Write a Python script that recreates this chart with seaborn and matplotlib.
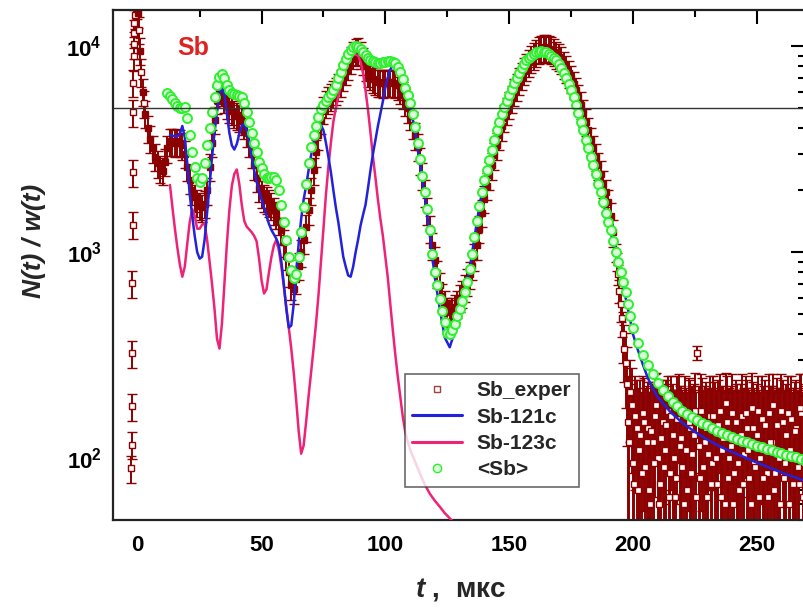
import numpy as np
import pandas as pd
import matplotlib
matplotlib.use("Agg")
import matplotlib.pyplot as plt
import seaborn as sns
from matplotlib.lines import Line2D
from matplotlib.ticker import MultipleLocator, FixedLocator, FixedFormatter, LogLocator, NullFormatter


# DATA

# experimental points: isolated column near t = 0 and a few half-step points
exp_t_start = [-2.6, -2.5, -2.4, -2.3, -2.2, -2.1, -2.0, -1.9, -1.8, -1.7, -1.6, -1.5, -1.4, -1.3,
               -0.5, 0.5, 1.5, 2.5]
exp_y_start = [89, 116, 178, 322, 705, 1360, 2450, 4770, 6650, 8920, 10200, 11600, 13000, 14200,
               16000, 12000, 7500, 5300]

# experimental points, t = 0 ... 192 (step 1)
exp_t_main = np.arange(0, 193)
exp_y_main = [
    14500, 9500, 6000, 4700, 4000, 3550, 3200, 2900, 2700, 2550,
    2480, 2750, 3200, 3450, 3450, 3400, 3450, 3400, 3300, 3000,
    2600, 2250, 2000, 1850, 1750, 1680, 1650, 1720, 2000, 2600,
    3400, 4400, 5500, 6150, 6000, 5600, 5200, 5000, 4850, 4700,
    4600, 4500, 4350, 4150, 3800, 3400, 3000, 2650, 2300, 2050,
    1920, 1850, 1800, 1750, 1680, 1600, 1520, 1420, 1280, 1120,
    960, 800, 690, 660, 740, 860, 1000, 1150, 1320, 1600,
    2000, 2500, 3050, 3700, 4400, 4950, 5300, 5500, 5700, 5900,
    6100, 6350, 6700, 7100, 7600, 8100, 8650, 9100, 9450, 9500,
    9100, 8500, 8000, 7500, 7200, 6950, 6800, 6700, 6650, 6600,
    6650, 6700, 6700, 6650, 6600, 6450, 6200, 5800, 5400, 5000,
    4600, 4150, 3700, 3250, 2800, 2350, 1950, 1600, 1300, 1080,
    920, 790, 690, 610, 560, 520, 510, 520, 540, 565,
    600, 630, 670, 720, 780, 860, 950, 1080, 1300, 1550,
    1820, 2100, 2370, 2650, 2960, 3300, 3700, 4100, 4500, 4870,
    5230, 5600, 6000, 6400, 6800, 7200, 7600, 8000, 8380, 8700,
    9000, 9300, 9600, 9800, 9900, 9850, 9750, 9600, 9400, 9150,
    8900, 8600, 8200, 7800, 7400, 7000, 6550, 6100, 5650, 5200,
    4750, 4300, 3900, 3500, 3200, 2900, 2650, 2400, 2150, 1950,
    1750, 1500, 1250,
]
exp_rel_err = 0.15

# noisy tail of the experiment, t = 193 ... 270
exp_t_tail = np.arange(193, 271)
exp_y_tail = [
    1000, 780, 560, 400, 290, 150, 210, 95, 160, 70,
    130, 165, 90, 140, 60, 120, 160, 100, 75, 150,
    110, 170, 85, 130, 65, 155, 115, 90, 165, 70,
    140, 105, 170, 325, 80, 150, 120, 65, 160, 95,
    135, 75, 170, 110, 60, 150, 100, 165, 85, 125,
    70, 160, 105, 140, 80, 175, 95, 130, 65, 155,
    110, 85, 165, 120, 70, 145, 100, 170, 80, 130,
    60, 155, 105, 140, 75, 165, 95, 120,
]
exp_err_tail = [
    100, 90, 100, 110, 115, 100, 90, 120, 90, 130,
    110, 85, 130, 95, 150, 110, 95, 120, 140, 90,
    115, 80, 130, 100, 150, 95, 110, 125, 85, 140,
    100, 120, 90, 25, 135, 95, 105, 150, 90, 125,
    100, 140, 85, 115, 155, 100, 120, 90, 130, 105,
    145, 95, 115, 100, 135, 85, 125, 100, 150, 95,
    115, 130, 90, 105, 145, 100, 120, 85, 135, 100,
    155, 95, 115, 100, 140, 90, 125, 105,
]

# tail points lying between the ones above, t = 193.5 ... 269.5
exp_t_tail2 = np.arange(193.5, 270, 1.0)
exp_y_tail2 = [
    900, 650, 480, 340, 230, 120, 180, 75, 140, 110,
    85, 150, 120, 70, 135, 95, 180, 60, 125, 90,
    145, 65, 160, 100, 80, 175, 125, 60, 110, 150,
    85, 130, 65, 115, 170, 90, 140, 105, 75, 160,
    100, 145, 65, 125, 185, 80, 115, 60, 150, 95,
    130, 75, 165, 110, 60, 140, 90, 170, 100, 80,
    145, 65, 120, 180, 85, 110, 60, 150, 95, 165,
    110, 75, 135, 90, 175, 65, 130,
]
exp_err_tail2 = [
    90, 85, 95, 105, 115, 110, 95, 125, 100, 110,
    125, 95, 105, 140, 100, 115, 80, 150, 105, 120,
    95, 145, 90, 115, 135, 80, 100, 150, 110, 95,
    130, 100, 145, 110, 85, 125, 95, 115, 140, 90,
    115, 95, 150, 100, 75, 130, 110, 155, 90, 120,
    100, 140, 85, 110, 150, 95, 120, 80, 110, 130,
    95, 145, 105, 75, 130, 110, 150, 90, 120, 85,
    110, 135, 100, 125, 80, 145, 100,
]

# <Sb> fit, t = 12 ... 200 step 1, then 202 ... 270 step 2
fit_t = np.r_[np.arange(12, 201), np.arange(202, 271, 2)]
fit_y = [
    5900, 5750, 5550, 5300, 5100, 5000, 5000, 5050, 4500, 3700,
    3050, 2600, 2300, 2200, 2300, 2700, 3300, 4000, 4800, 5700,
    6500, 7100, 7300, 7000, 6500, 6100, 5900, 5850, 5800, 5750,
    5650, 5300, 4800, 4300, 3800, 3400, 3050, 2750, 2550, 2400,
    2300, 2300, 2320, 2330, 2250, 2000, 1700, 1400, 1150, 950,
    820, 750, 780, 950, 1250, 1650, 2150, 2700, 3250, 3700,
    4100, 4550, 4950, 5200, 5450, 5650, 5850, 6100, 6500, 7000,
    7500, 8100, 8700, 9200, 9600, 9900, 10000, 9950, 9700, 9400,
    9100, 8800, 8600, 8450, 8350, 8300, 8300, 8350, 8400, 8450,
    8450, 8400, 8250, 7950, 7500, 6900, 6300, 5800, 5300, 4700,
    4050, 3400, 2820, 2350, 1950, 1620, 1280, 980, 800, 690,
    590, 520, 460, 405, 400, 420, 450, 490, 530, 580,
    640, 720, 830, 980, 1180, 1420, 1680, 1950, 2230, 2500,
    2800, 3120, 3500, 3900, 4300, 4700, 5050, 5400, 5800, 6200,
    6600, 7000, 7400, 7800, 8200, 8550, 8800, 9000, 9200, 9350,
    9420, 9440, 9400, 9350, 9200, 9000, 8800, 8600, 8200, 7800,
    7400, 7000, 6550, 6100, 5650, 5200, 4750, 4300, 3900, 3500,
    3200, 2900, 2650, 2400, 2150, 1950, 1750, 1550, 1400, 1280,
    1130, 1000, 900, 800, 720, 640, 560, 490, 430,
    360, 315, 282, 255, 232, 215, 200, 188, 178, 170,
    164, 158, 153, 148, 144, 140, 136, 133, 130, 127,
    124, 121, 119, 117, 115, 113, 111, 109, 107, 106,
    104, 102, 101, 99, 98,
]

# Sb-121c component
b121_t = np.r_[np.arange(13, 104), np.arange(104, 201, 2),
               [202, 204, 206, 208, 210, 215, 220, 225, 230, 235, 240, 245, 250, 255, 260, 265, 270]]
b121_y = [
    3700, 3680, 3650, 3650, 3750, 4100, 3600, 2700, 1900, 1500,
    1200, 1000, 930, 950, 1150, 1550, 2100, 2900, 3800, 4800,
    5800, 6500, 5800, 4700, 3800, 3300, 3150, 3350, 3750, 4100,
    4200, 3900, 3400, 2900, 2500, 2200, 1980, 1800, 1650, 1500,
    1370, 1280, 1220, 1160, 1080, 900, 700, 530, 430, 440,
    560, 800, 1100, 1450, 1800, 2100, 2500, 2950, 3400, 3800,
    4050, 4150, 3900, 3400, 2900, 2450, 2000, 1650, 1400, 1150,
    950, 850, 770, 760, 850, 1000, 1150, 1350, 1520, 1700,
    2050, 2500, 3000, 3500, 4100, 4700, 5400, 6300, 7080, 7700, 8100,
    8000, 7300, 6100, 5100, 3900, 2650, 1850, 1200, 750,
    530, 385, 345, 410, 510, 630, 820, 1180, 1680, 2230,
    2800, 3500, 4300, 5050, 5800, 6600, 7400, 8200, 8800, 9200,
    9420, 9400, 9200, 8800, 8200, 7400, 6550, 5650, 4750, 3900,
    3200, 2650, 2150, 1750, 1400, 1120, 880, 690, 530, 400,
    335, 285, 245, 218, 198, 168, 148, 134, 123, 114, 107, 101, 95, 90, 85, 81, 77,
]

# Sb-123c component
b123_t = np.r_[np.arange(13, 111), np.arange(112, 131, 2)]
b123_y = [
    2120, 1650, 1300, 1050, 870, 760, 850, 1100, 1400, 1620,
    1500, 1300, 1300, 1360, 1380, 1150, 900, 700, 530, 380,
    340, 450, 700, 1100, 1600, 2100, 2400, 2520, 2150, 1700,
    1420, 1330, 1290, 1250, 1200, 1130, 930, 730, 630, 660,
    800, 950, 1080, 1150, 1020, 850, 680, 540, 430, 340,
    260, 190, 135, 105, 115, 150, 200, 260, 340, 450,
    620, 900, 1300, 1900, 2600, 3400, 4300, 5000, 5700, 6400,
    7100, 7800, 8400, 8800, 9050, 9100, 9000, 8400, 7400, 6100,
    4900, 3800, 2900, 2300, 1800, 1450, 1200, 950, 750, 560,
    420, 320, 250, 200, 160, 135, 120, 110,
    96, 84, 74, 67, 62, 58, 54, 51, 48, 45,
]

labels = ["Sb_exper", "Sb-121c", "Sb-123c", "<Sb>"]
ref_level = 5000

exp_color = "#8b0000"
blue = "#2222dd"
pink = "#ee2277"
green_edge = "#2ef02e"
green_face = "#dcffdc"


# STYLE

sns.set_style("white")
plt.rcParams["font.family"] = ["Liberation Sans", "DejaVu Sans"]
plt.rcParams["mathtext.fontset"] = "custom"
plt.rcParams["mathtext.rm"] = "Liberation Sans:bold"
plt.rcParams["mathtext.bf"] = "Liberation Sans:bold"
plt.rcParams["mathtext.it"] = "Liberation Sans:italic:bold"

fig = plt.figure(figsize=(8.04, 6.09), dpi=100)
ax = fig.add_axes([113 / 804, 89 / 609, 692 / 804, 510 / 609])


# PLOT

exp_style = dict(fmt="s", ms=4.2, mfc="white", mec=exp_color, mew=1.0, ecolor=exp_color,
                 elinewidth=1.4, capsize=3.5, capthick=1.4, zorder=2)
ax.errorbar(exp_t_start, exp_y_start, yerr=np.array(exp_y_start) * exp_rel_err, **exp_style)
# the main band is so dense in the original that the squares merge into a solid band
ax.errorbar(exp_t_main, exp_y_main, yerr=np.array(exp_y_main) * exp_rel_err,
            **{**exp_style, "mfc": exp_color, "ms": 4.8})
ax.errorbar(exp_t_tail, exp_y_tail, yerr=exp_err_tail, **exp_style)
ax.errorbar(exp_t_tail2, exp_y_tail2, yerr=exp_err_tail2, **exp_style)

df_123 = pd.DataFrame({"t": b123_t, "N": b123_y})
df_121 = pd.DataFrame({"t": b121_t, "N": b121_y})
df_fit = pd.DataFrame({"t": fit_t, "N": fit_y})

sns.lineplot(data=df_123, x="t", y="N", color=pink, lw=1.8, estimator=None, sort=False, ax=ax, zorder=3)
sns.lineplot(data=df_121, x="t", y="N", color=blue, lw=1.8, estimator=None, sort=False, ax=ax, zorder=4)
sns.scatterplot(data=df_fit, x="t", y="N", marker="o", s=42, color=green_face, edgecolor=green_edge,
                linewidth=1.4, ax=ax, zorder=5, legend=False)

ax.axhline(ref_level, color="#333333", lw=1.0, zorder=6)

ax.set_yscale("log")
ax.set_xlim(-10, 269.5)
ax.set_ylim(50, 15000)

ax.text(16, 9100, "Sb", color="#dd2222", fontsize=18, fontweight="bold")

# axes, ticks
ax.xaxis.set_major_locator(MultipleLocator(50))
ax.xaxis.set_minor_locator(MultipleLocator(25))
ax.yaxis.set_major_locator(FixedLocator([100, 1000, 10000]))
ax.yaxis.set_major_formatter(FixedFormatter([r"$\mathbf{10^{2}}$", r"$\mathbf{10^{3}}$", r"$\mathbf{10^{4}}$"]))
ax.yaxis.set_minor_locator(LogLocator(base=10, subs=np.arange(2, 10)))
ax.yaxis.set_minor_formatter(NullFormatter())

ax.tick_params(which="both", direction="in", top=True, right=True, width=1.5, colors="black")
ax.tick_params(which="major", length=10)
ax.tick_params(which="minor", length=5)
ax.tick_params(axis="x", pad=11, labelsize=16)
ax.tick_params(axis="y", pad=8, labelsize=16)
for lab in ax.get_xticklabels():
    lab.set_fontweight("bold")
for sp in ax.spines.values():
    sp.set_linewidth(1.6)
    sp.set_color("#222222")

ax.set_xlabel(r"$\mathit{t}$ ,  мкс", fontsize=20, fontweight="bold")
ax.set_ylabel("N(t) / w(t)", fontsize=19, fontweight="bold", fontstyle="italic")
ax.xaxis.set_label_coords(0.503, -0.11)
ax.yaxis.set_label_coords(-0.097, 0.547)

handles = [
    Line2D([], [], ls="none", marker="s", ms=5, mfc="white", mec="#a04040", mew=1.0),
    Line2D([], [], color=blue, lw=2.2),
    Line2D([], [], color=pink, lw=2.2),
    Line2D([], [], ls="none", marker="o", ms=6, mfc=green_face, mec=green_edge, mew=1.0),
]
leg = ax.legend(handles, labels, loc="upper left", bbox_to_anchor=(0.422, 0.286), frameon=True,
                fancybox=False, edgecolor="#444444", prop={"weight": "bold", "size": 15},
                handlelength=2.4, handletextpad=0.7, labelspacing=0.35, borderpad=0.35, borderaxespad=0)
leg.get_frame().set_linewidth(1.2)
leg.set_zorder(10)

fig.savefig("out.png", dpi=100)
